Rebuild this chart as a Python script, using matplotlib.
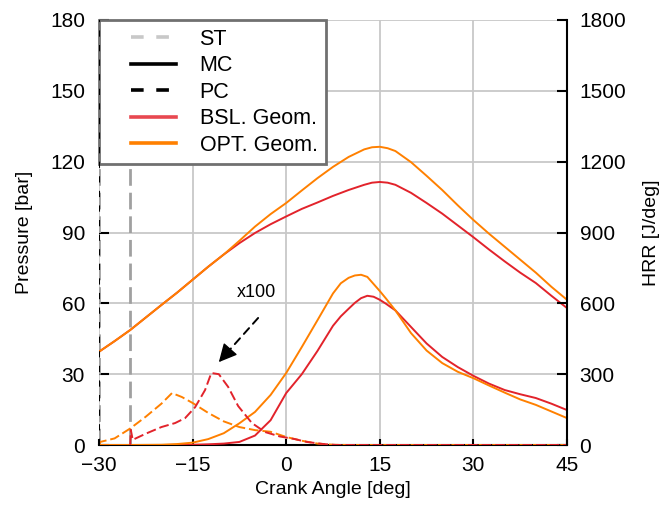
import matplotlib
matplotlib.use('Agg')
import matplotlib.pyplot as plt
from matplotlib.lines import Line2D
from matplotlib.legend_handler import HandlerLine2D
import numpy as np

plt.rcParams['font.family'] = ['Liberation Sans', 'DejaVu Sans']

# crank angle grid for the pressure traces
ca_p = [-30, -27.5, -25, -22.5, -20, -17.5, -15, -12.5, -10, -7.5, -5, -2.5, 0,
        2.5, 5, 7.5, 10, 12.5, 13.75, 15, 16.25, 17.5, 20, 22.5, 25, 27.5, 30,
        32.5, 35, 37.5, 40, 42.5, 45]
p_bsl = [39.5, 44, 48.7, 54, 59.3, 64.5, 70, 75.5, 80.7, 85.5, 89.8, 93.5, 96.8,
         100, 102.7, 105.5, 108, 110.2, 111.1, 111.4, 111.1, 110.2, 106.8, 102.5,
         98, 93, 88, 82.8, 77.8, 73, 68.6, 63.2, 58]
p_opt = [39.5, 44, 48.7, 54, 59.3, 64.5, 70, 75.5, 80.7, 86.5, 92.5, 97.8, 102.5,
         107.8, 113, 117.8, 122, 125.2, 126.1, 126.3, 125.7, 124.5, 119.8, 114, 108,
         101.5, 95.3, 89.5, 84, 78.5, 73, 67, 61.5]

# heat release rate [J/deg]
ca_hrr = [-30, -25, -20, -17.5, -15, -12.5, -10, -7.5, -5, -2.5, 0, 2.5, 5, 7.5,
          8.75, 10, 11, 12, 13, 14, 15, 16, 17.5, 20, 22.5, 25, 27.5, 30, 32.5, 35,
          37.5, 40, 42.5, 45]
hrr_bsl = [0, 0, 0, 0.5, 1, 3, 6, 13, 40, 105, 220, 300, 398, 505, 545, 577, 602,
           622, 632, 628, 615, 598, 570, 500, 430, 373, 330, 293, 260, 233, 215,
           199, 175, 148]
hrr_opt = [0, 0, 1, 4, 10, 25, 50, 92, 140, 212, 305, 415, 528, 642, 685, 708, 718,
           721, 712, 682, 652, 620, 570, 474, 400, 347, 310, 283, 252, 222, 193,
           170, 142, 114]

# early heat release (plotted x100)
ca_early_bsl = [-25, -24.9, -24.6, -22.5, -20, -17.8, -16.2, -14.6, -13, -12,
                -10.8, -9.3, -7.7, -5.5, -3.4, -1, 1.4, 3.3, 6, 8, 45]
hrr_early_bsl = [0, 0.64, 0.22, 0.48, 0.76, 0.93, 1.14, 1.6, 2.33, 3.05, 3.0, 2.46,
                 1.65, 0.93, 0.55, 0.36, 0.25, 0.13, 0.04, 0, 0]
ca_early_opt = [-30, -29.8, -27.5, -25, -22.5, -20, -18.3, -16.7, -15, -12.5, -10,
                -7.5, -5, -2.5, 0, 2.5, 5, 7.5, 10, 45]
hrr_early_opt = [0, 0.13, 0.28, 0.7, 1.2, 1.75, 2.2, 2.03, 1.78, 1.36, 1.0, 0.76,
                 0.63, 0.56, 0.34, 0.18, 0.06, 0.01, 0, 0]
early_scale = 100

st_angles = [-30, -25]
pc_angles = [-30]

RED = '#e2232b'
ORANGE = '#ff8000'

fig = plt.figure(figsize=(6.6, 5.05), dpi=100)
ax = fig.add_axes([0.15, 0.1188, 0.7091, 0.8416])
ax2 = ax.twinx()

ax.set_xlim(-30, 45)
ax.set_ylim(0, 180)
ax2.set_ylim(0, 1800)
ax.set_xticks([-30, -15, 0, 15, 30, 45])
ax.set_yticks(np.arange(0, 181, 30))
ax2.set_yticks(np.arange(0, 1801, 300))
ax.grid(True, color='#c8c8c8', lw=1.3)
ax.set_axisbelow(True)

for s in ['left', 'top', 'right']:
    ax.spines[s].set_visible(False)
for s in ['left', 'top', 'bottom']:
    ax2.spines[s].set_visible(False)
ax.spines['bottom'].set_linewidth(1.5)
ax2.spines['right'].set_linewidth(1.5)

ax.tick_params(axis='y', direction='in', length=7, width=1.5, labelsize=15, pad=10)
ax.tick_params(axis='x', direction='in', length=4.5, width=1.5, labelsize=15, pad=8)
ax2.tick_params(axis='y', direction='in', length=7, width=1.5, labelsize=15, pad=9)

for a in st_angles:
    ax.axvline(a, color='#a0a0a0', lw=2, dashes=(6, 2.5))
for a in pc_angles:
    ax2.axvline(a, color='black', lw=1.5, dashes=(3, 4), zorder=6)

ax.plot(ca_p, p_bsl, color=RED, lw=1.4)
ax.plot(ca_p, p_opt, color=ORANGE, lw=1.4)
ax2.plot(ca_hrr, hrr_bsl, color=RED, lw=1.4)
ax2.plot(ca_hrr, hrr_opt, color=ORANGE, lw=1.4)
ax2.plot(ca_early_opt, np.array(hrr_early_opt) * early_scale, color=ORANGE, lw=1.4,
         dashes=(5, 2))
ax2.plot(ca_early_bsl, np.array(hrr_early_bsl) * early_scale, color=RED, lw=1.4,
         dashes=(5, 2))

# x100 arrow
ax.annotate('', xy=(-9.4, 39.3), xytext=(-4.5, 53.8),
            arrowprops=dict(arrowstyle='-', ls=(0, (4, 3)), lw=1.4, color='black',
                            shrinkA=0, shrinkB=0))
ax.annotate('', xy=(-10.8, 35.1), xytext=(-9.4, 39.3),
            arrowprops=dict(arrowstyle='-|>,head_length=0.8,head_width=0.4',
                            mutation_scale=14, lw=1, color='black',
                            shrinkA=0, shrinkB=0))
ax.text(-4.8, 64.4, 'x100', ha='center', va='center', fontsize=13)

ax.set_xlabel('Crank Angle [deg]', fontsize=14, labelpad=4)
ax.set_ylabel('Pressure [bar]', fontsize=14, labelpad=12)
ax2.set_ylabel('HRR [J/deg]', fontsize=14, labelpad=12)

handles = [
    Line2D([], [], color='#c8c8c8', lw=2.6, dashes=(3.5, 3.5)),
    Line2D([], [], color='black', lw=2.6),
    Line2D([], [], color='black', lw=2.6, dashes=(3.5, 3.5)),
    Line2D([], [], color='#e84850', lw=2.6),
    Line2D([], [], color=ORANGE, lw=2.6),
]
labels = ['ST', 'MC', 'PC', 'BSL. Geom.', 'OPT. Geom.']
leg = ax2.legend(handles, labels, loc='upper left', bbox_to_anchor=(0, 1),
                 borderaxespad=0, fontsize=15.5, fancybox=False, framealpha=1,
                 edgecolor='#707070', borderpad=0.4, labelspacing=0.256,
                 handlelength=4.27, handletextpad=0.0,
                 handler_map={Line2D: HandlerLine2D(numpoints=2, marker_pad=1.09)})
leg.get_frame().set_linewidth(2)

fig.savefig('out.png', dpi=100)
